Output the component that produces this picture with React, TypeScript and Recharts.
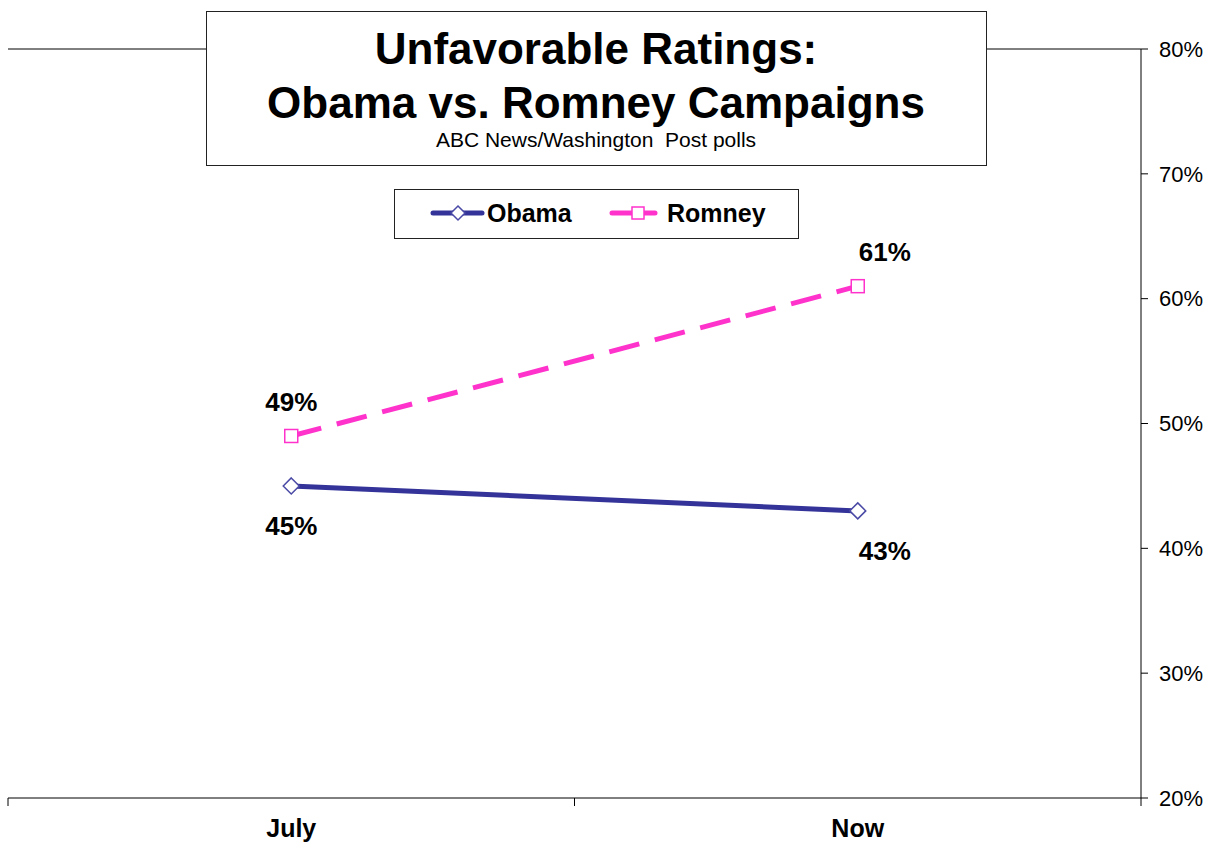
import React from "react";
import { LineChart, Line, XAxis, YAxis, ReferenceLine, Legend, LabelList } from "recharts";

const periods = ["July", "Now"];
const obamaValues = [45, 43];
const romneyValues = [49, 61];
const pctTicks = [20, 30, 40, 50, 60, 70, 80];

const OBAMA = "#333399";
const ROMNEY = "#FF33CC";
const FONT = "'Liberation Sans', Arial, sans-serif";

const W = 1213;
const H = 843;
const PLOT_LEFT = 8;
const PLOT_RIGHT = 1141;
// half of one category band, used for the boundary tick marks on the x axis
const HALF_BAND = (PLOT_RIGHT - PLOT_LEFT) / periods.length / 2;

const data = periods.map((period, i) => ({
  period,
  obama: obamaValues[i],
  romney: romneyValues[i],
}));

function Diamond({ cx, cy, half = 8 }: any) {
  if (cx == null || cy == null) return null;
  return (
    <polygon
      points={`${cx},${cy - half} ${cx + half},${cy} ${cx},${cy + half} ${cx - half},${cy}`}
      fill="#fff"
      stroke="#4a4aa6"
      strokeWidth={1.5}
    />
  );
}

function Square({ cx, cy, side = 13 }: any) {
  if (cx == null || cy == null) return null;
  return <rect x={cx - side / 2} y={cy - side / 2} width={side} height={side} fill="#fff" stroke={ROMNEY} strokeWidth={1.5} />;
}

function CategoryTick({ x, y, payload }: any) {
  return (
    <g>
      <line x1={x - HALF_BAND} x2={x - HALF_BAND} y1={y - 8} y2={y} stroke="#000" strokeWidth={1} />
      <line x1={x + HALF_BAND} x2={x + HALF_BAND} y1={y - 8} y2={y} stroke="#000" strokeWidth={1} />
      <text x={x} y={y + 31} textAnchor="middle" fontFamily={FONT} fontWeight="bold" fontSize={25} fill="#000">
        {payload.value}
      </text>
    </g>
  );
}

const makeLabel = (above: boolean) => (props: any) => {
  const { x, y, value, index } = props;
  // the "Now" labels sit a little to the right of their markers
  const dx = index === periods.length - 1 ? 27 : 0;
  return (
    <text
      x={x + dx}
      y={above ? y - 25 : y + 49}
      textAnchor="middle"
      fontFamily={FONT}
      fontWeight="bold"
      fontSize={26}
      fill="#000"
    >
      {`${value}%`}
    </text>
  );
};

function LegendBox() {
  return (
    <div
      style={{
        width: 405,
        height: 50,
        boxSizing: "border-box",
        border: "1px solid #222",
        background: "#fff",
      }}
    >
      <svg width={403} height={48} style={{ display: "block" }}>
        <line x1={38} x2={87} y1={23} y2={23} stroke={OBAMA} strokeWidth={5} strokeLinecap="round" />
        <Diamond cx={63} cy={23} half={7} />
        <text x={92} y={32} fontFamily={FONT} fontWeight="bold" fontSize={25} fill="#000">
          Obama
        </text>
        <line x1={217} x2={260} y1={23} y2={23} stroke={ROMNEY} strokeWidth={5} strokeLinecap="round" />
        <Square cx={243} cy={23} side={12} />
        <text x={272} y={32} fontFamily={FONT} fontWeight="bold" fontSize={25} fill="#000">
          Romney
        </text>
      </svg>
    </div>
  );
}

export default function App() {
  return (
    <div style={{ position: "absolute", left: 0, top: 0, width: W, height: H, background: "#fff" }}>
      <LineChart width={W} height={H} data={data} margin={{ top: 49, right: 0, bottom: 0, left: PLOT_LEFT }}>
        <XAxis
          dataKey="period"
          scale="band"
          height={45}
          interval={0}
          axisLine={{ stroke: "#000", strokeWidth: 1 }}
          tickLine={false}
          tickSize={8}
          tickMargin={0}
          tick={<CategoryTick />}
        />
        <YAxis
          yAxisId="frame"
          orientation="left"
          width={0}
          domain={[20, 80]}
          tick={false}
          tickLine={false}
          axisLine={{ stroke: "#000", strokeWidth: 1 }}
        />
        <YAxis
          yAxisId="pct"
          orientation="right"
          width={72}
          domain={[20, 80]}
          ticks={pctTicks}
          interval={0}
          tickFormatter={(v) => `${v}%`}
          tickSize={7}
          tickMargin={11}
          axisLine={{ stroke: "#000", strokeWidth: 1 }}
          tickLine={{ stroke: "#000", strokeWidth: 1 }}
          tick={{ fill: "#000", fontSize: 22, fontFamily: FONT }}
        />
        <ReferenceLine yAxisId="pct" y={80} stroke="#000" strokeWidth={1} />
        <Legend
          layout="vertical"
          align="center"
          verticalAlign="middle"
          content={() => <LegendBox />}
          wrapperStyle={{ left: 394, top: 189, width: 405, height: 50 }}
        />
        <Line
          yAxisId="pct"
          dataKey="obama"
          name="Obama"
          type="linear"
          stroke={OBAMA}
          strokeWidth={5}
          dot={<Diamond />}
          activeDot={false}
          isAnimationActive={false}
        >
          <LabelList dataKey="obama" content={makeLabel(false)} />
        </Line>
        <Line
          yAxisId="pct"
          dataKey="romney"
          name="Romney"
          type="linear"
          stroke={ROMNEY}
          strokeWidth={5}
          strokeDasharray="31 16"
          dot={<Square />}
          activeDot={false}
          isAnimationActive={false}
        >
          <LabelList dataKey="romney" content={makeLabel(true)} />
        </Line>
      </LineChart>
      <div
        style={{
          position: "absolute",
          left: 206,
          top: 11,
          width: 781,
          height: 155,
          boxSizing: "border-box",
          border: "1px solid #222",
          background: "#fff",
        }}
      >
        <svg width={779} height={153} style={{ display: "block" }}>
          <text x={389} y={52} textAnchor="middle" fontFamily={FONT} fontWeight="bold" fontSize={44} fill="#000">
            Unfavorable Ratings:
          </text>
          <text x={389} y={106} textAnchor="middle" fontFamily={FONT} fontWeight="bold" fontSize={44} fill="#000">
            Obama vs. Romney Campaigns
          </text>
          <text
            x={389}
            y={135}
            textAnchor="middle"
            fontFamily={FONT}
            fontSize={21}
            fill="#000"
            style={{ whiteSpace: "pre" }}
          >
            ABC News/Washington  Post polls
          </text>
        </svg>
      </div>
    </div>
  );
}
